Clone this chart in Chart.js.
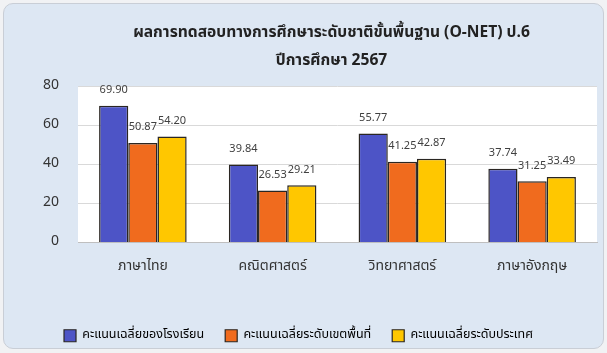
<!DOCTYPE html>
<html>
<head>
<meta charset="utf-8">
<script src="https://cdn.jsdelivr.net/npm/chart.js@4.4.1/dist/chart.umd.min.js"></script>
<style>
  html, body { margin:0; padding:0; background:#f1f2f4; }
  .panel { position:absolute; left:3px; top:3px; width:599px; height:344px; background:#dde7f3; border:1px solid #c9ced6; border-radius:10px; }
  .wrap { position:absolute; left:0; top:0; width:607px; height:353px; }
</style>
</head>
<body>
<div class="panel"></div>
<div class="wrap"><canvas id="chart" width="607" height="353"></canvas></div>
<script>
const subjects = ['ภาษาไทย', 'คณิตศาสตร์', 'วิทยาศาสตร์', 'ภาษาอังกฤษ'];
const schoolAvg = [69.90, 39.84, 55.77, 37.74];
const areaAvg = [50.87, 26.53, 41.25, 31.25];
const nationAvg = [54.20, 29.21, 42.87, 33.49];
const seriesNames = ['คะแนนเฉลี่ยของโรงเรียน', 'คะแนนเฉลี่ยระดับเขตพื้นที่', 'คะแนนเฉลี่ยระดับประเทศ'];
const titleLines = ['ผลการทดสอบทางการศึกษาระดับชาติขั้นพื้นฐาน (O-NET) ป.6', 'ปีการศึกษา 2567'];

const FONT = 'Tahoma, "Noto Sans Thai", "Noto Sans", sans-serif';

// white plot background
const plotBg = {
  id: 'plotBg',
  beforeDraw(chart) {
    const { ctx, chartArea: a } = chart;
    ctx.save();
    ctx.fillStyle = '#ffffff';
    ctx.fillRect(a.left, a.top, a.right - a.left, a.bottom - a.top);
    ctx.restore();
  }
};

// two line title, centred over the plot, sized to the reference width (~396px)
const titleText = {
  id: 'titleText',
  afterDraw(chart) {
    const { ctx, chartArea: a } = chart;
    ctx.save();
    ctx.font = 'bold 17px ' + FONT;
    const w = ctx.measureText(titleLines[0]).width;
    const size = Math.max(12, Math.min(20, 17 * 396 / w));
    ctx.font = 'bold ' + size.toFixed(1) + 'px ' + FONT;
    ctx.fillStyle = '#222';
    ctx.textAlign = 'center';
    ctx.textBaseline = 'middle';
    const cx = (a.left + a.right) / 2 - 6;
    ctx.fillText(titleLines[0], cx, 34);
    ctx.fillText(titleLines[1], cx, 62);
    ctx.restore();
  }
};

// value labels above bars
const valueLabels = {
  id: 'valueLabels',
  afterDatasetsDraw(chart) {
    const { ctx } = chart;
    ctx.save();
    ctx.font = '11px ' + FONT;
    ctx.fillStyle = '#404040';
    ctx.textAlign = 'center';
    ctx.textBaseline = 'middle';
    chart.data.datasets.forEach((ds, i) => {
      chart.getDatasetMeta(i).data.forEach((bar, j) => {
        ctx.fillText(ds.data[j].toFixed(2), bar.x, bar.y - 15);
      });
    });
    ctx.restore();
  }
};

new Chart(document.getElementById('chart'), {
  type: 'bar',
  data: {
    labels: subjects,
    datasets: [
      { label: seriesNames[0], data: schoolAvg, backgroundColor: '#4d54c6' },
      { label: seriesNames[1], data: areaAvg, backgroundColor: '#f06b1e' },
      { label: seriesNames[2], data: nationAvg, backgroundColor: '#ffc700' }
    ].map(d => Object.assign(d, { borderColor: '#2a2622', borderWidth: 1.5, categoryPercentage: 0.675, barPercentage: 1 }))
  },
  options: {
    responsive: false,
    animation: false,
    layout: { padding: { left: 0, right: 10, top: 86, bottom: 1 } },
    plugins: {
      title: { display: false },
      legend: {
        position: 'bottom',
        labels: {
          color: '#222',
          font: { family: FONT, size: 12.5 },
          boxWidth: 12, boxHeight: 12, padding: 21,
          generateLabels(chart) {
            return chart.data.datasets.map((ds, i) => ({
              text: ds.label, fillStyle: ds.backgroundColor, strokeStyle: '#2a2622',
              lineWidth: 1.2, datasetIndex: i, hidden: false
            }));
          }
        }
      },
      tooltip: { enabled: false }
    },
    scales: {
      x: {
        grid: { display: false },
        border: { color: '#bfbfbf' },
        ticks: { color: '#333', font: { family: FONT, size: 14 }, padding: 8 },
        afterFit(s) { s.height = 66; }
      },
      y: {
        min: 0, max: 80,
        ticks: { stepSize: 20, color: '#333', font: { family: FONT, size: 14 }, padding: 19 },
        grid: { color: '#d9d9d9', drawTicks: false },
        border: { display: false },
        afterFit(s) { s.width = 78; }
      }
    }
  },
  plugins: [plotBg, valueLabels, titleText]
});
</script>
</body>
</html>
